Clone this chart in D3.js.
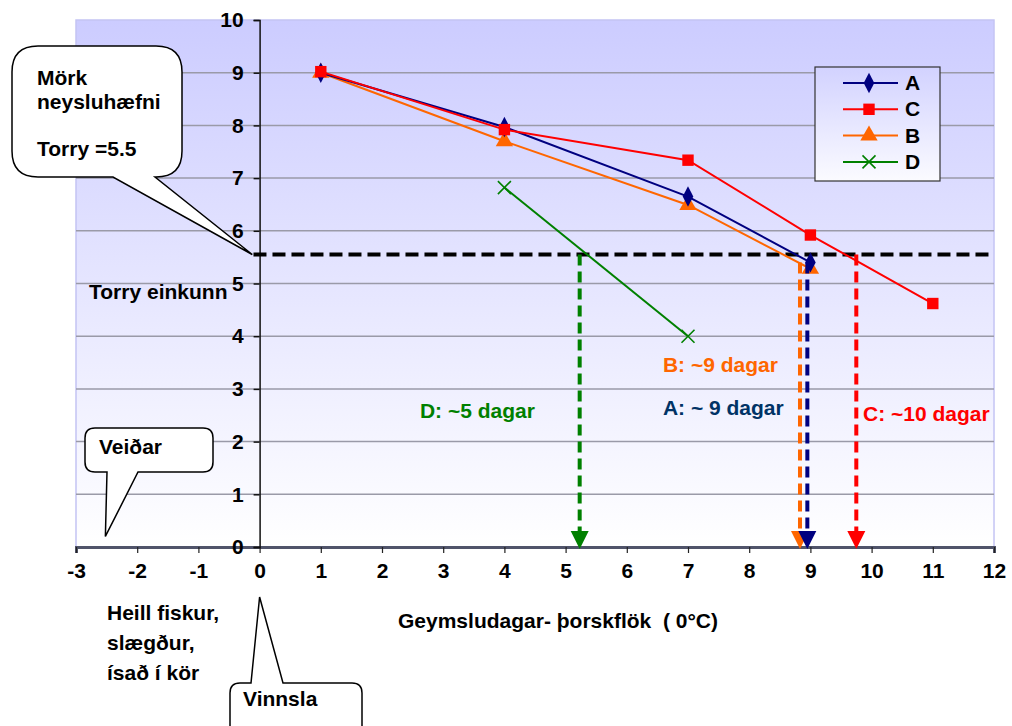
<!DOCTYPE html>
<html>
<head>
<meta charset="utf-8">
<script src="https://cdn.jsdelivr.net/npm/d3@7"></script>
<style>
  body { margin: 0; background: #fff; }
  svg text { font-family: "Liberation Sans", Arial, sans-serif; font-weight: bold; white-space: pre; }
</style>
</head>
<body>
<script>
// chart data
var xTicks = [-3, -2, -1, 0, 1, 2, 3, 4, 5, 6, 7, 8, 9, 10, 11, 12];
var yTicks = [0, 1, 2, 3, 4, 5, 6, 7, 8, 9, 10];

var daysA = [1, 4, 7, 9],      valuesA = [9.0, 7.97, 6.65, 5.4];
var daysC = [1, 4, 7, 9, 11],  valuesC = [9.02, 7.92, 7.34, 5.92, 4.62];
var daysB = [1, 4, 7, 9],      valuesB = [9.0, 7.7, 6.49, 5.28];
var daysD = [4, 7],            valuesD = [6.82, 4.0];

var threshold = 5.55;              // Torry limit line
var arrowNames = ["D", "B", "A", "C"];
var arrowDays  = [5.23, 8.83, 8.95, 9.75];
var arrowStart = [5.55, 5.4, 5.4, 5.55];

var labelTexts = ["D: ~5 dagar", "B: ~9 dagar", "A: ~ 9 dagar", "C: ~10 dagar"];

//svg frame
var width = 1012, height = 726;
var fs = 21;
var svg = d3.select("body").append("svg")
    .attr("width", width)
    .attr("height", height);

var x = d3.scaleLinear().domain([-3, 12]).range([76, 994]);
var y = d3.scaleLinear().domain([0, 10]).range([547, 20]);

var colors = { A: "#000080", C: "#ff0000", B: "#ff6600", D: "#008000" };
var textColors = { A: "#003366", C: "#ff0000", B: "#ff6600", D: "#008000" };

//gradient backgrounds
var defs = svg.append("defs");
var grad = defs.append("linearGradient").attr("id", "bg")
    .attr("x1", 0).attr("y1", 0).attr("x2", 0).attr("y2", 1);
grad.append("stop").attr("offset", "0%").attr("stop-color", "#ccccff");
grad.append("stop").attr("offset", "100%").attr("stop-color", "#ffffff");

var lgrad = defs.append("linearGradient").attr("id", "lg")
    .attr("x1", 0).attr("y1", 0).attr("x2", 0).attr("y2", 1);
lgrad.append("stop").attr("offset", "0%").attr("stop-color", "#d2d2ff");
lgrad.append("stop").attr("offset", "100%").attr("stop-color", "#fbfbff");

//plot area
svg.append("rect")
    .attr("x", x(-3)).attr("y", y(10))
    .attr("width", x(12) - x(-3)).attr("height", y(0) - y(10))
    .attr("fill", "url(#bg)")
    .attr("stroke", "#c4c4f4")
    .attr("stroke-width", 1.5);

//gridlines
svg.selectAll(".grid")
    .data(yTicks.filter(function(d){ return d > 0 && d < 10; }))
    .enter().append("line")
    .attr("class", "grid")
    .attr("x1", x(-3)).attr("x2", x(12))
    .attr("y1", function(d){ return y(d); })
    .attr("y2", function(d){ return y(d); })
    .attr("stroke", "#9a9aa8")
    .attr("stroke-width", 1.5);

//x axis
var xAxis = svg.append("g")
    .attr("transform", "translate(0," + y(0) + ")")
    .call(d3.axisBottom(x).tickValues(xTicks).tickSize(6).tickPadding(10).tickFormat(function(d){ return String(d); }));
xAxis.select(".domain").attr("stroke", "#50546a").attr("stroke-width", 3);
xAxis.selectAll(".tick line").attr("stroke", "#222").attr("stroke-width", 1.2);
xAxis.selectAll("text").attr("font-size", fs).attr("fill", "#000")
    .attr("font-family", "Liberation Sans, Arial, sans-serif").attr("font-weight", "bold");

//y axis at x = 0
var yAxis = svg.append("g")
    .attr("transform", "translate(" + x(0) + ",0)")
    .call(d3.axisLeft(y).tickValues(yTicks).tickSize(6).tickPadding(10).tickFormat(function(d){ return String(d); }));
yAxis.select(".domain").attr("stroke", "#111").attr("stroke-width", 1.5);
yAxis.selectAll(".tick line").attr("stroke", "#111").attr("stroke-width", 1.5);
yAxis.selectAll("text").attr("font-size", fs).attr("fill", "#000")
    .attr("font-family", "Liberation Sans, Arial, sans-serif").attr("font-weight", "bold");

//threshold line
svg.append("line")
    .attr("x1", x(-0.1)).attr("x2", x(12))
    .attr("y1", y(threshold)).attr("y2", y(threshold))
    .attr("stroke", "#000")
    .attr("stroke-width", 4)
    .attr("stroke-dasharray", "13,6");

//series lines
var series = [
  { name: "A", days: daysA, values: valuesA, symbol: d3.symbolDiamond, size: 120 },
  { name: "C", days: daysC, values: valuesC, symbol: d3.symbolSquare, size: 130 },
  { name: "B", days: daysB, values: valuesB, symbol: d3.symbolTriangle, size: 130 },
  { name: "D", days: daysD, values: valuesD, symbol: null, size: 0 }
];

var line = d3.line()
    .x(function(d){ return x(d[0]); })
    .y(function(d){ return y(d[1]); });

function drawMarker(g, s, cx, cy) {
  if (s.symbol) {
    g.append("path")
      .attr("d", d3.symbol().type(s.symbol).size(s.size)())
      .attr("transform", "translate(" + cx + "," + cy + ")" + (s.name == "A" ? " scale(0.9,1)" : ""))
      .attr("fill", colors[s.name]);
  } else {
    g.append("path")
      .attr("d", "M-6.5,-6.5L6.5,6.5M-6.5,6.5L6.5,-6.5")
      .attr("transform", "translate(" + cx + "," + cy + ")")
      .attr("stroke", colors[s.name])
      .attr("stroke-width", 1.6)
      .attr("fill", "none");
  }
}

// draw order like the picture: D, B, A, C
[series[3], series[2], series[0], series[1]].forEach(function(s){
  var pts = s.days.map(function(d, i){ return [d, s.values[i]]; });
  var g = svg.append("g");
  g.append("path")
    .datum(pts)
    .attr("d", line)
    .attr("fill", "none")
    .attr("stroke", colors[s.name])
    .attr("stroke-width", 2);
  pts.forEach(function(p){ drawMarker(g, s, x(p[0]), y(p[1])); });
});

//vertical arrows
arrowNames.forEach(function(n, i){
  var ax = x(arrowDays[i]);
  svg.append("line")
    .attr("x1", ax).attr("x2", ax)
    .attr("y1", y(arrowStart[i])).attr("y2", y(0) - 14)
    .attr("stroke", colors[n])
    .attr("stroke-width", 4)
    .attr("stroke-dasharray", "11,6");
  svg.append("path")
    .attr("d", "M" + (ax - 9) + "," + (y(0) - 16) + "L" + (ax + 9) + "," + (y(0) - 16) + "L" + ax + "," + (y(0) + 2) + "Z")
    .attr("fill", colors[n]);
});

//arrow labels
var labelX = [2.62, 6.59, 6.59, 9.86];
var labelY = [2.45, 3.33, 2.5, 2.4];
labelTexts.forEach(function(t, i){
  svg.append("text")
    .attr("x", x(labelX[i]))
    .attr("y", y(labelY[i]))
    .attr("font-size", fs)
    .attr("fill", textColors[arrowNames[i]])
    .text(t);
});

//legend
var legend = svg.append("g").attr("transform", "translate(815,67)");
legend.append("rect")
    .attr("width", 125).attr("height", 114)
    .attr("fill", "url(#lg)")
    .attr("stroke", "#333").attr("stroke-width", 1.2);
series.forEach(function(s, i){
  var ly = 16 + i * 26.3;
  legend.append("line")
    .attr("x1", 28).attr("x2", 83)
    .attr("y1", ly).attr("y2", ly)
    .attr("stroke", colors[s.name]).attr("stroke-width", 2);
  drawMarker(legend, s, 54, ly);
  legend.append("text")
    .attr("x", 90).attr("y", ly + 7)
    .attr("font-size", fs)
    .text(s.name);
});

//axis titles and notes
svg.append("text").attr("x", 89).attr("y", 299).attr("font-size", fs).text("Torry einkunn");
svg.append("text").attr("x", 398).attr("y", 628).attr("font-size", fs).text("Geymsludagar- þorskflök  ( 0°C)");
["Heill fiskur,", "slægður,", "ísað í kör"].forEach(function(t, i){
  svg.append("text").attr("x", 107).attr("y", 620 + i * 30).attr("font-size", fs).text(t);
});

//callouts: rounded box with a tail
function callout(bx, by, bw, bh, r, t1, t2, tip, top) {
  var p = "M" + (bx + r) + "," + by;
  if (top) p += "H" + t1 + "L" + tip[0] + "," + tip[1] + "L" + t2 + "," + by;
  p += "H" + (bx + bw - r) + "Q" + (bx + bw) + "," + by + " " + (bx + bw) + "," + (by + r);
  p += "V" + (by + bh - r) + "Q" + (bx + bw) + "," + (by + bh) + " " + (bx + bw - r) + "," + (by + bh);
  if (!top) p += "H" + t2 + "L" + tip[0] + "," + tip[1] + "L" + t1 + "," + (by + bh);
  p += "H" + (bx + r) + "Q" + bx + "," + (by + bh) + " " + bx + "," + (by + bh - r);
  p += "V" + (by + r) + "Q" + bx + "," + by + " " + (bx + r) + "," + by + "Z";
  svg.append("path").attr("d", p)
    .attr("fill", "#fff").attr("stroke", "#000").attr("stroke-width", 1.5);
}

callout(12, 46, 170, 131, 26, 113, 155, [x(-0.12), y(threshold)], false);
svg.append("text").attr("x", 37).attr("y", 85).attr("font-size", fs).text("Mörk");
svg.append("text").attr("x", 37).attr("y", 109).attr("font-size", fs).text("neysluhæfni");
svg.append("text").attr("x", 37).attr("y", 156).attr("font-size", fs).text("Torry =5.5");

callout(85, 428, 128, 44, 10, 107, 138, [x(-2.52), y(0.2)], false);
svg.append("text").attr("x", 99).attr("y", 454).attr("font-size", fs).text("Veiðar");

callout(230, 683, 132, 70, 10, 251, 283, [x(0), 597], true);
svg.append("text").attr("x", 243).attr("y", 706).attr("font-size", fs).text("Vinnsla");
</script>
</body>
</html>
